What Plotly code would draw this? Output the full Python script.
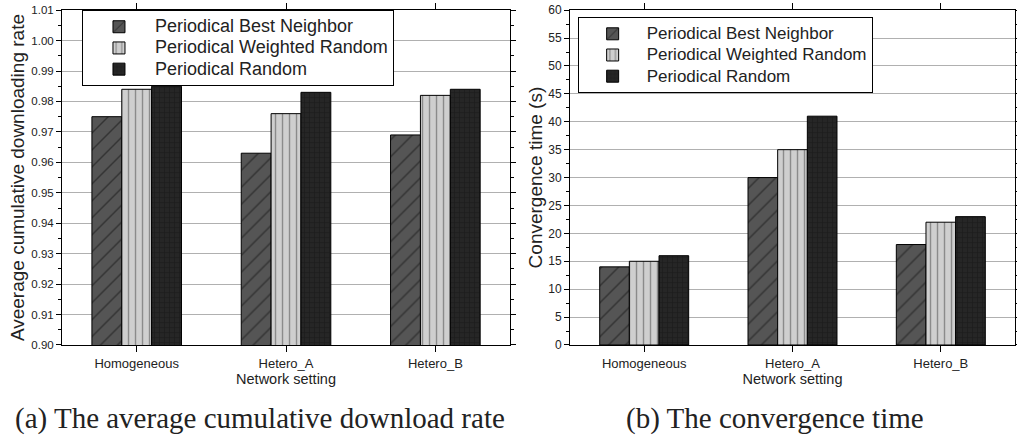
import plotly.graph_objects as go

categories = ["Homogeneous", "Hetero_A", "Hetero_B"]
series_names = ["Periodical Best Neighbor", "Periodical Weighted Random", "Periodical Random"]

rate_best = [0.975, 0.963, 0.969]
rate_weighted = [0.984, 0.976, 0.982]
rate_random = [0.985, 0.983, 0.984]

time_best = [14, 30, 18]
time_weighted = [15, 35, 22]
time_random = [16, 41, 23]

styles = [
    dict(bg="#555555", fg="#111111", shape="/", size=12, solidity=0.12),
    dict(bg="#cfcfcf", fg="#444444", shape="|", size=7, solidity=0.2),
    dict(bg="#262626", fg="#111111", shape="+", size=5, solidity=0.25),
]

FONT = "Liberation Sans, Arial, sans-serif"
fig = go.Figure()


def add_series(values_list, xa, ya, legend_name, text_px):
    for i, (name, vals) in enumerate(zip(series_names, values_list)):
        s = styles[i]
        fig.add_trace(go.Bar(
            x=categories, y=vals,
            name=f'<span style="font-size:{text_px}px">{name}</span>',
            xaxis=xa, yaxis=ya, legend=legend_name,
            marker=dict(color=s["bg"], line=dict(color="black", width=1),
                        pattern=dict(shape=s["shape"], fgcolor=s["fg"], bgcolor=s["bg"],
                                     size=s["size"], solidity=s["solidity"], fillmode="overlay")),
        ))


add_series([rate_best, rate_weighted, rate_random], "x", "y", "legend", 18)
add_series([time_best, time_weighted, time_random], "x2", "y2", "legend2", 17)


def axis_common(size):
    return dict(showline=True, linecolor="black", linewidth=1, mirror="ticks",
                ticks="outside", tickcolor="black", automargin=False,
                tickfont=dict(family=FONT, size=size, color="#222"))


fig.update_layout(
    width=1017, height=441, margin=dict(l=0, r=0, t=0, b=0),
    paper_bgcolor="white", plot_bgcolor="white",
    barmode="group", bargap=0.4, bargroupgap=0,
    font=dict(family=FONT, color="#222"),
    xaxis=dict(domain=[0.061, 0.5015], anchor="y", range=[-0.5, 2.5], ticklen=6,
               title=dict(text="Network setting", font=dict(family=FONT, size=14.5), standoff=1),
               **axis_common(13)),
    yaxis=dict(domain=[0.2177, 0.977], anchor="x", range=[0.90, 1.01], dtick=0.01,
               tickformat=".2f", ticklen=5, showgrid=True, gridcolor="#b0b0b0", gridwidth=1,
               minor=dict(dtick=0.005, ticks="outside", ticklen=3, tickcolor="black", showgrid=False),
               title=dict(text="Aveerage cumulative downloading rate", font=dict(family=FONT, size=19), standoff=1),
               **axis_common(11.5)),
    xaxis2=dict(domain=[0.5605, 0.998], anchor="y2", range=[-0.5, 2.5], ticklen=6,
                title=dict(text="Network setting", font=dict(family=FONT, size=14.5), standoff=1),
                **axis_common(13)),
    yaxis2=dict(domain=[0.2177, 0.977], anchor="x2", range=[0, 60], dtick=5,
                ticklen=5, showgrid=True, gridcolor="#b0b0b0", gridwidth=1,
                minor=dict(dtick=2.5, ticks="outside", ticklen=3, tickcolor="black", showgrid=False),
                title=dict(text="Convergence time (s)", font=dict(family=FONT, size=19), standoff=0),
                **axis_common(12)),
    legend=dict(x=0.0806, y=0.977, xanchor="left", yanchor="top",
                bordercolor="black", borderwidth=1, bgcolor="white",
                font=dict(family=FONT, size=14, color="#222"), itemwidth=62, tracegroupgap=0),
    legend2=dict(x=0.568, y=0.961, xanchor="left", yanchor="top",
                 bordercolor="black", borderwidth=1, bgcolor="white",
                 font=dict(family=FONT, size=14, color="#222"), itemwidth=58, tracegroupgap=0),
    annotations=[
        dict(text="(a) The average cumulative download rate", x=0.2557, y=0.052,
             xref="paper", yref="paper", xanchor="center", yanchor="middle", showarrow=False,
             font=dict(family="Liberation Serif, serif", size=29, color="#222")),
        dict(text="(b) The convergence time", x=0.762, y=0.052,
             xref="paper", yref="paper", xanchor="center", yanchor="middle", showarrow=False,
             font=dict(family="Liberation Serif, serif", size=29, color="#222")),
    ],
)

fig.write_html("out.html")
